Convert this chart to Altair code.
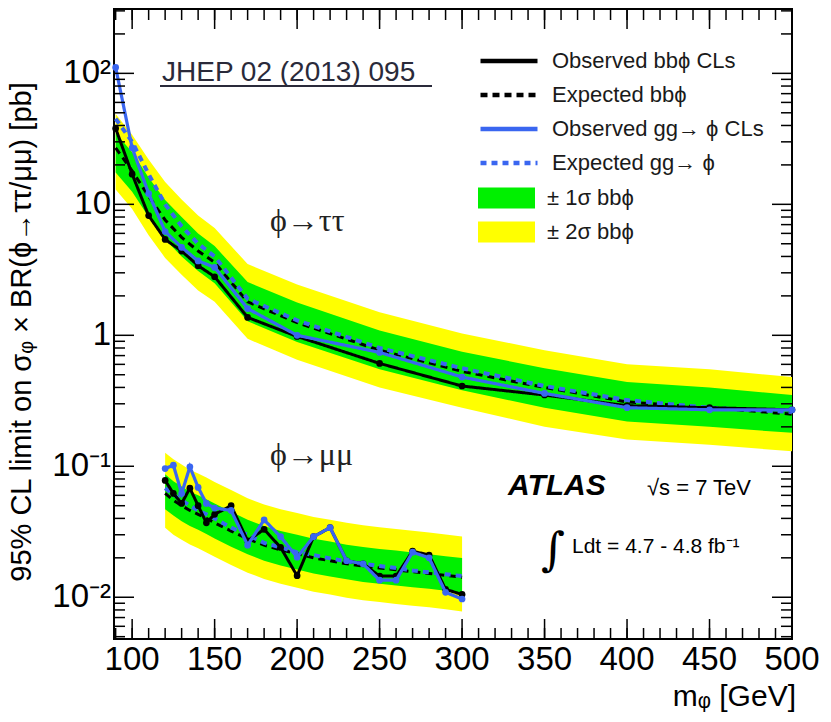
import altair as alt
import pandas as pd

# ---------------- data ----------------
tt_mass = [90, 100, 110, 120, 130, 140, 150, 170, 200, 250, 300, 350, 400, 450, 500]
tt_obs_bb = [38, 17, 8.2, 5.4, 4.4, 3.4, 2.8, 1.37, 0.98, 0.61, 0.41, 0.35, 0.29, 0.28, 0.27]
tt_exp_bb = [27, 18, 11.5, 7.6, 5.6, 4.4, 3.6, 1.8, 1.25, 0.77, 0.53, 0.40, 0.31, 0.28, 0.25]
tt_obs_gg = [111, 27, 12.1, 6.2, 4.7, 3.7, 3.3, 1.6, 1.0, 0.74, 0.48, 0.36, 0.28, 0.27, 0.27]
tt_exp_gg = [45, 30, 17, 10, 6.8, 5.0, 4.0, 1.9, 1.3, 0.80, 0.56, 0.41, 0.32, 0.28, 0.26]
tt_g_lo = [17.5, 12.5, 8.0, 5.4, 4.0, 3.1, 2.5, 1.28, 0.89, 0.55, 0.38, 0.28, 0.22, 0.20, 0.18]
tt_g_hi = [35, 25, 16, 10.8, 8.0, 6.0, 4.8, 2.55, 1.78, 1.09, 0.75, 0.56, 0.44, 0.40, 0.35]
tt_y_lo = [13, 9.2, 5.8, 3.9, 2.9, 2.2, 1.8, 0.94, 0.65, 0.40, 0.28, 0.20, 0.16, 0.146, 0.13]
tt_y_hi = [49, 34, 22, 14.8, 10.9, 8.2, 6.6, 3.5, 2.44, 1.5, 1.03, 0.77, 0.60, 0.55, 0.48]

mm_mass = [120, 125, 130, 135, 140, 145, 150, 160, 170, 180, 190, 200, 210, 220, 230, 240, 250, 260, 270, 280, 290, 300]
mm_obs_bb = [0.078, 0.062, 0.052, 0.068, 0.050, 0.037, 0.043, 0.050, 0.027, 0.033, 0.024, 0.0146, 0.029, 0.034,
             0.019, 0.018, 0.0145, 0.0145, 0.0225, 0.021, 0.0115, 0.0105]
mm_exp_bb = [0.062, 0.055, 0.050, 0.046, 0.043, 0.040, 0.037, 0.032, 0.028, 0.025, 0.023, 0.0215, 0.020, 0.019,
             0.018, 0.0173, 0.0167, 0.0162, 0.0157, 0.0152, 0.0147, 0.0142]
mm_obs_gg = [0.096, 0.102, 0.062, 0.099, 0.069, 0.052, 0.048, 0.046, 0.025, 0.039, 0.029, 0.0202, 0.029, 0.034,
             0.019, 0.018, 0.0135, 0.0135, 0.0221, 0.020, 0.0109, 0.0097]
mm_exp_gg = [0.068, 0.061, 0.055, 0.050, 0.046, 0.043, 0.040, 0.034, 0.030, 0.026, 0.024, 0.022, 0.021, 0.0198,
             0.0188, 0.018, 0.0173, 0.0167, 0.016, 0.0155, 0.015, 0.0145]
mm_g_lo = [0.047, 0.042, 0.038, 0.035, 0.0327, 0.0304, 0.0281, 0.0243, 0.0213, 0.019, 0.0175, 0.0163, 0.0152,
           0.0144, 0.0137, 0.0131, 0.0127, 0.0123, 0.0119, 0.0116, 0.0112, 0.0108]
mm_g_hi = [0.087, 0.077, 0.070, 0.064, 0.060, 0.056, 0.052, 0.045, 0.039, 0.035, 0.032, 0.030, 0.028, 0.0266,
           0.0252, 0.0242, 0.0234, 0.0227, 0.022, 0.0213, 0.0206, 0.0199]
mm_y_lo = [0.034, 0.030, 0.0275, 0.0253, 0.0237, 0.022, 0.0204, 0.0176, 0.0154, 0.0138, 0.0127, 0.0118, 0.011,
           0.0105, 0.0099, 0.0095, 0.0092, 0.0089, 0.0086, 0.0084, 0.0081, 0.0078]
mm_y_hi = [0.127, 0.113, 0.103, 0.094, 0.088, 0.082, 0.076, 0.066, 0.057, 0.051, 0.047, 0.044, 0.041, 0.039,
           0.037, 0.0355, 0.0342, 0.0332, 0.0322, 0.0312, 0.0301, 0.0291]

series_names = ["Observed bbϕ CLs", "Expected bbϕ", "Observed gg→ ϕ CLs", "Expected gg→ ϕ"]
band_names = ["± 1σ bbϕ", "± 2σ bbϕ"]

x_major = [100, 150, 200, 250, 300, 350, 400, 450, 500]
x_labels = ["100", "150", "200", "250", "300", "350", "400", "450", "500"]
x_minor = list(range(90, 501, 10))
y_major = [0.01, 0.1, 1, 10, 100]
y_labels = ["10⁻²", "10⁻¹", "1", "10", "10²"]
y_minor = [0.005, 0.006, 0.007, 0.008, 0.009, 0.02, 0.03, 0.04, 0.05, 0.06, 0.07, 0.08, 0.09,
           0.2, 0.3, 0.4, 0.5, 0.6, 0.7, 0.8, 0.9, 2, 3, 4, 5, 6, 7, 8, 9,
           20, 30, 40, 50, 60, 70, 80, 90, 200, 300]

# ---------------- tables ----------------
rows = []
for ch, m, vals in [("tt", tt_mass, [tt_obs_bb, tt_exp_bb, tt_obs_gg, tt_exp_gg]),
                    ("mm", mm_mass, [mm_obs_bb, mm_exp_bb, mm_obs_gg, mm_exp_gg])]:
    for name, v in zip(series_names, vals):
        for mi, vi in zip(m, v):
            rows.append({"mass": mi, "value": vi, "series": name, "channel": ch})
lines = pd.DataFrame(rows)

brows = []
for ch, m, glo, ghi, ylo, yhi in [("tt", tt_mass, tt_g_lo, tt_g_hi, tt_y_lo, tt_y_hi),
                                  ("mm", mm_mass, mm_g_lo, mm_g_hi, mm_y_lo, mm_y_hi)]:
    for i, mi in enumerate(m):
        brows.append({"mass": mi, "lo": glo[i], "hi": ghi[i], "band": band_names[0], "channel": ch})
        brows.append({"mass": mi, "lo": ylo[i], "hi": yhi[i], "band": band_names[1], "channel": ch})
bands = pd.DataFrame(brows)

W, H = 678, 630
FONT = "Liberation Sans"
BLUE = "#3a66f0"

XS = alt.Scale(domain=[89, 500], nice=False, zero=False)
YS = alt.Scale(type="log", domain=[0.0048, 310], nice=False)

band_legend = alt.Legend(title=None, orient="none", legendX=364, legendY=172,
                         symbolType="M-1,-0.37H1V0.37H-1Z", symbolSize=3249, symbolStrokeWidth=0,
                         symbolOpacity=1, labelFontSize=22, labelFont=FONT, labelColor="#1a1a1a",
                         labelLimit=400, clipHeight=34, rowPadding=0, padding=0, labelOffset=12)
line_legend = alt.Legend(title=None, orient="none", legendX=364, legendY=35,
                         symbolType="stroke", symbolSize=3249, symbolStrokeWidth=4.5,
                         labelFontSize=22, labelFont=FONT, labelColor="#1a1a1a",
                         labelLimit=400, clipHeight=34, rowPadding=0, padding=0, labelOffset=12)

fill_enc = alt.Fill("band:N", scale=alt.Scale(domain=band_names, range=["#00f000", "#ffff00"]), legend=band_legend)
color_enc = alt.Color("series:N", scale=alt.Scale(domain=series_names, range=["black", "black", BLUE, BLUE]),
                      legend=line_legend)
dash_enc = alt.StrokeDash("series:N", scale=alt.Scale(domain=series_names, range=[[1, 0], [7, 5], [1, 0], [6, 5]]),
                          legend=line_legend)

layers = []
# bands
for bname in [band_names[1], band_names[0]]:
    layers.append(alt.Chart(bands[bands.band == bname]).mark_area(opacity=1).encode(
        x=alt.X("mass:Q", scale=XS, axis=None),
        y=alt.Y("lo:Q", scale=YS, axis=None),
        y2="hi:Q", fill=fill_enc, detail="channel:N"))

# lines
widths = {series_names[0]: 3, series_names[1]: 3, series_names[2]: 3.2, series_names[3]: 4}
for name in [series_names[1], series_names[3], series_names[0], series_names[2]]:
    layers.append(alt.Chart(lines[lines.series == name]).mark_line(strokeWidth=widths[name]).encode(
        x=alt.X("mass:Q", scale=XS, axis=None),
        y=alt.Y("value:Q", scale=YS, axis=None),
        color=color_enc, strokeDash=dash_enc, detail="channel:N"))
    if name.startswith("Observed"):
        col = "black" if "bb" in name else BLUE
        layers.append(alt.Chart(lines[lines.series == name]).mark_circle(size=45, opacity=1, color=col).encode(
            x=alt.X("mass:Q", scale=XS, axis=None),
            y=alt.Y("value:Q", scale=YS, axis=None)))

# inward ticks (drawn through the scales)
def xticks(vals, y0, y1):
    return alt.Chart(pd.DataFrame({"t": vals})).mark_rule(color="black", strokeWidth=1.5).encode(
        x=alt.X("t:Q", scale=XS, axis=None), y=alt.value(y0), y2=alt.value(y1))

def yticks(vals, x0, x1):
    return alt.Chart(pd.DataFrame({"t": vals})).mark_rule(color="black", strokeWidth=1.5).encode(
        y=alt.Y("t:Q", scale=YS, axis=None), x=alt.value(x0), x2=alt.value(x1))

layers += [xticks(x_major, H, H - 20), xticks(x_minor, H, H - 11),
           xticks(x_major, 0, 20), xticks(x_minor, 0, 11),
           yticks(y_major, 0, 20), yticks(y_minor, 0, 11),
           yticks(y_major, W, W - 20), yticks(y_minor, W, W - 11)]

# tick labels (through the scales)
layers.append(alt.Chart(pd.DataFrame({"t": x_major, "lab": x_labels})).mark_text(
    font=FONT, fontSize=33, color="black", align="center", baseline="top").encode(
    x=alt.X("t:Q", scale=XS, axis=None), y=alt.value(H + 5), text="lab:N"))
layers.append(alt.Chart(pd.DataFrame({"t": y_major, "lab": y_labels})).mark_text(
    font=FONT, fontSize=33, color="black", align="right", baseline="middle").encode(
    y=alt.Y("t:Q", scale=YS, axis=None), x=alt.value(-3), text="lab:N"))

# annotations
anno = pd.DataFrame({"a": [0]})

def txt(text, x, y, size, font=FONT, weight="normal", style="normal", color="black", align="left",
        baseline="alphabetic", angle=0):
    return alt.Chart(anno).mark_text(text=text, font=font, fontSize=size, fontWeight=weight, fontStyle=style,
                                     color=color, align=align, baseline=baseline, angle=angle).encode(
        x=alt.value(x), y=alt.value(y))

layers += [
    txt("95% CL limit on σᵩ × BR(ϕ→ττ/μμ) [pb]", -92, 323, 29, align="center", baseline="middle", angle=270),
    txt("mᵩ [GeV]", W + 4, H + 67, 30, align="right"),
    txt("JHEP 02 (2013) 095", 48, 72, 28, color="#2a2a3a"),
    alt.Chart(anno).mark_rule(color="#2a2a3a", strokeWidth=2).encode(x=alt.value(46), x2=alt.value(318),
                                                                    y=alt.value(77)),
    txt("ϕ→ττ", 156, 212, 32, font="Liberation Serif", baseline="middle", color="#222"),
    txt("ϕ→μμ", 156, 446, 32, font="Liberation Serif", baseline="middle", color="#222"),
    txt("ATLAS", 394, 486, 30, weight="bold", style="italic"),
    txt("√s = 7 TeV", 533, 486, 22),
    txt("∫", 427, 556, 46, font="DejaVu Serif"),
    txt("Ldt = 4.7 - 4.8 fb⁻¹", 458, 544, 21),
]

chart = alt.layer(*layers).properties(
    width=W, height=H,
    autosize=alt.AutoSizeParams(type="none"),
    padding={"left": 114, "top": 9, "right": 39, "bottom": 83},
).configure_view(stroke="black", strokeWidth=2)

chart.save("out.html", embed_options={"renderer": "svg", "actions": False})
